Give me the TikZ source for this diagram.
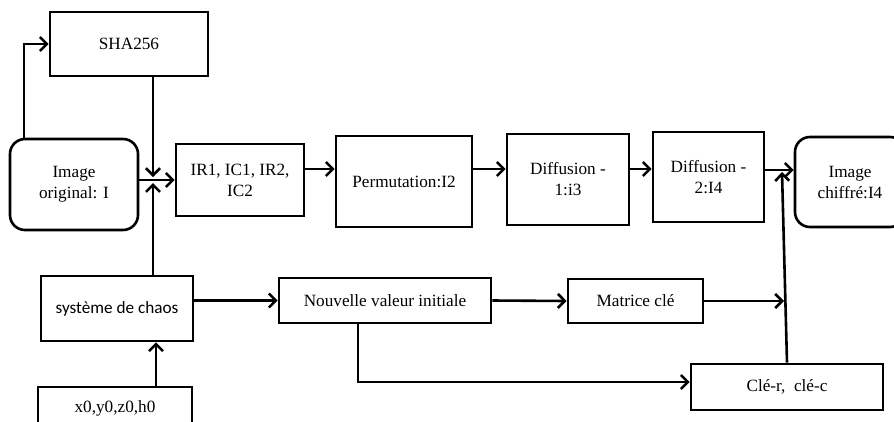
\documentclass[tikz,border=0pt]{standalone}
\usepackage{fontspec}
\setmainfont{Liberation Serif}
\newfontfamily\chaosfont{Carlito}
\usetikzlibrary{arrows.meta}
\begin{document}
\begin{tikzpicture}[x=1pt,y=-1pt,
  every node/.style={font=\fontsize{17.2}{21}\selectfont, align=center, inner sep=0pt},
  blockbox/.style={draw, line width=2.6pt, minimum width=#1},
  roundbox/.style={draw, line width=2.6pt, rounded corners=15pt, minimum width=#1},
  flow/.style={line width=2.6pt, -{Straight Barb[length=7pt,width=14pt,line width=2.6pt]}}
]
\useasboundingbox (0,0) rectangle (894,421);

% processing chain
\node[blockbox=158, minimum height=64] (sha) at (129,44) {SHA256};
\node[roundbox=128, minimum height=91] (orig) at (74,184.5) {Image\\original: I};
\node[blockbox=128, minimum height=72] (ir) at (240,180) {IR1, IC1, IR2,\\IC2};
\node[blockbox=136, minimum height=91] (perm) at (404,181.5) {Permutation:I2};
\node[blockbox=122, minimum height=91] (dif1) at (568,179.5) {Diffusion -\\1:i3};
\node[blockbox=111, minimum height=90] (dif2) at (708.5,177) {Diffusion -\\2:I4};
\node[roundbox=110, minimum height=90] (chif) at (850,182) {Image\\chiffré:I4};

% key generation
\node[blockbox=152, minimum height=65, font=\chaosfont\fontsize{17.2}{21}\selectfont] (chaos) at (117,308.5) {système de chaos};
\node[blockbox=154, minimum height=42] (init) at (115,408) {x0,y0,z0,h0};
\node[blockbox=212, minimum height=45] (nouv) at (385,300.5) {Nouvelle valeur initiale};
\node[blockbox=135, minimum height=44] (mat) at (635.5,301) {Matrice clé};
\node[blockbox=192, minimum height=46] (cle) at (787,387) {Clé-r,\ \ clé-c};

% junction points
\coordinate (jdown) at (153,177);
\coordinate (jup) at (153,183);
\coordinate (corner) at (24,44);
\coordinate (ktip) at (782,172);
\coordinate (kmat) at (784,301);
\coordinate (kbend) at (358,382);

% connectors
\draw[flow] (orig.north -| corner) -- (corner) -- (sha.west |- corner);
\draw[flow] (sha.south -| jdown) -- (jdown);
\draw[flow] (chaos.north -| jup) -- (jup);
\draw[flow] (orig.east |- ir.west) -- (ir.west);
\draw[flow] (ir.east |- 0,169) -- (perm.west |- 0,169);
\draw[flow] (perm.east |- 0,169) -- (dif1.west |- 0,169);
\draw[flow] (dif1.east |- 0,169) -- (dif2.west |- 0,169);
\draw[flow] (dif2.east |- 0,170) -- (chif.west |- 0,170);
\draw[flow] (init.north -| 156,0) -- (chaos.south -| 156,0);
\draw[flow] (chaos.east |- nouv.west) -- (nouv.west);
\draw[flow] (nouv.east) -- (mat.west);
\draw[flow] (mat.east) -- (kmat);
\draw[flow] (nouv.south -| kbend) -- (kbend) -- (cle.west |- kbend);
\draw[flow] (cle.north) -- (ktip);
\end{tikzpicture}
\end{document}
